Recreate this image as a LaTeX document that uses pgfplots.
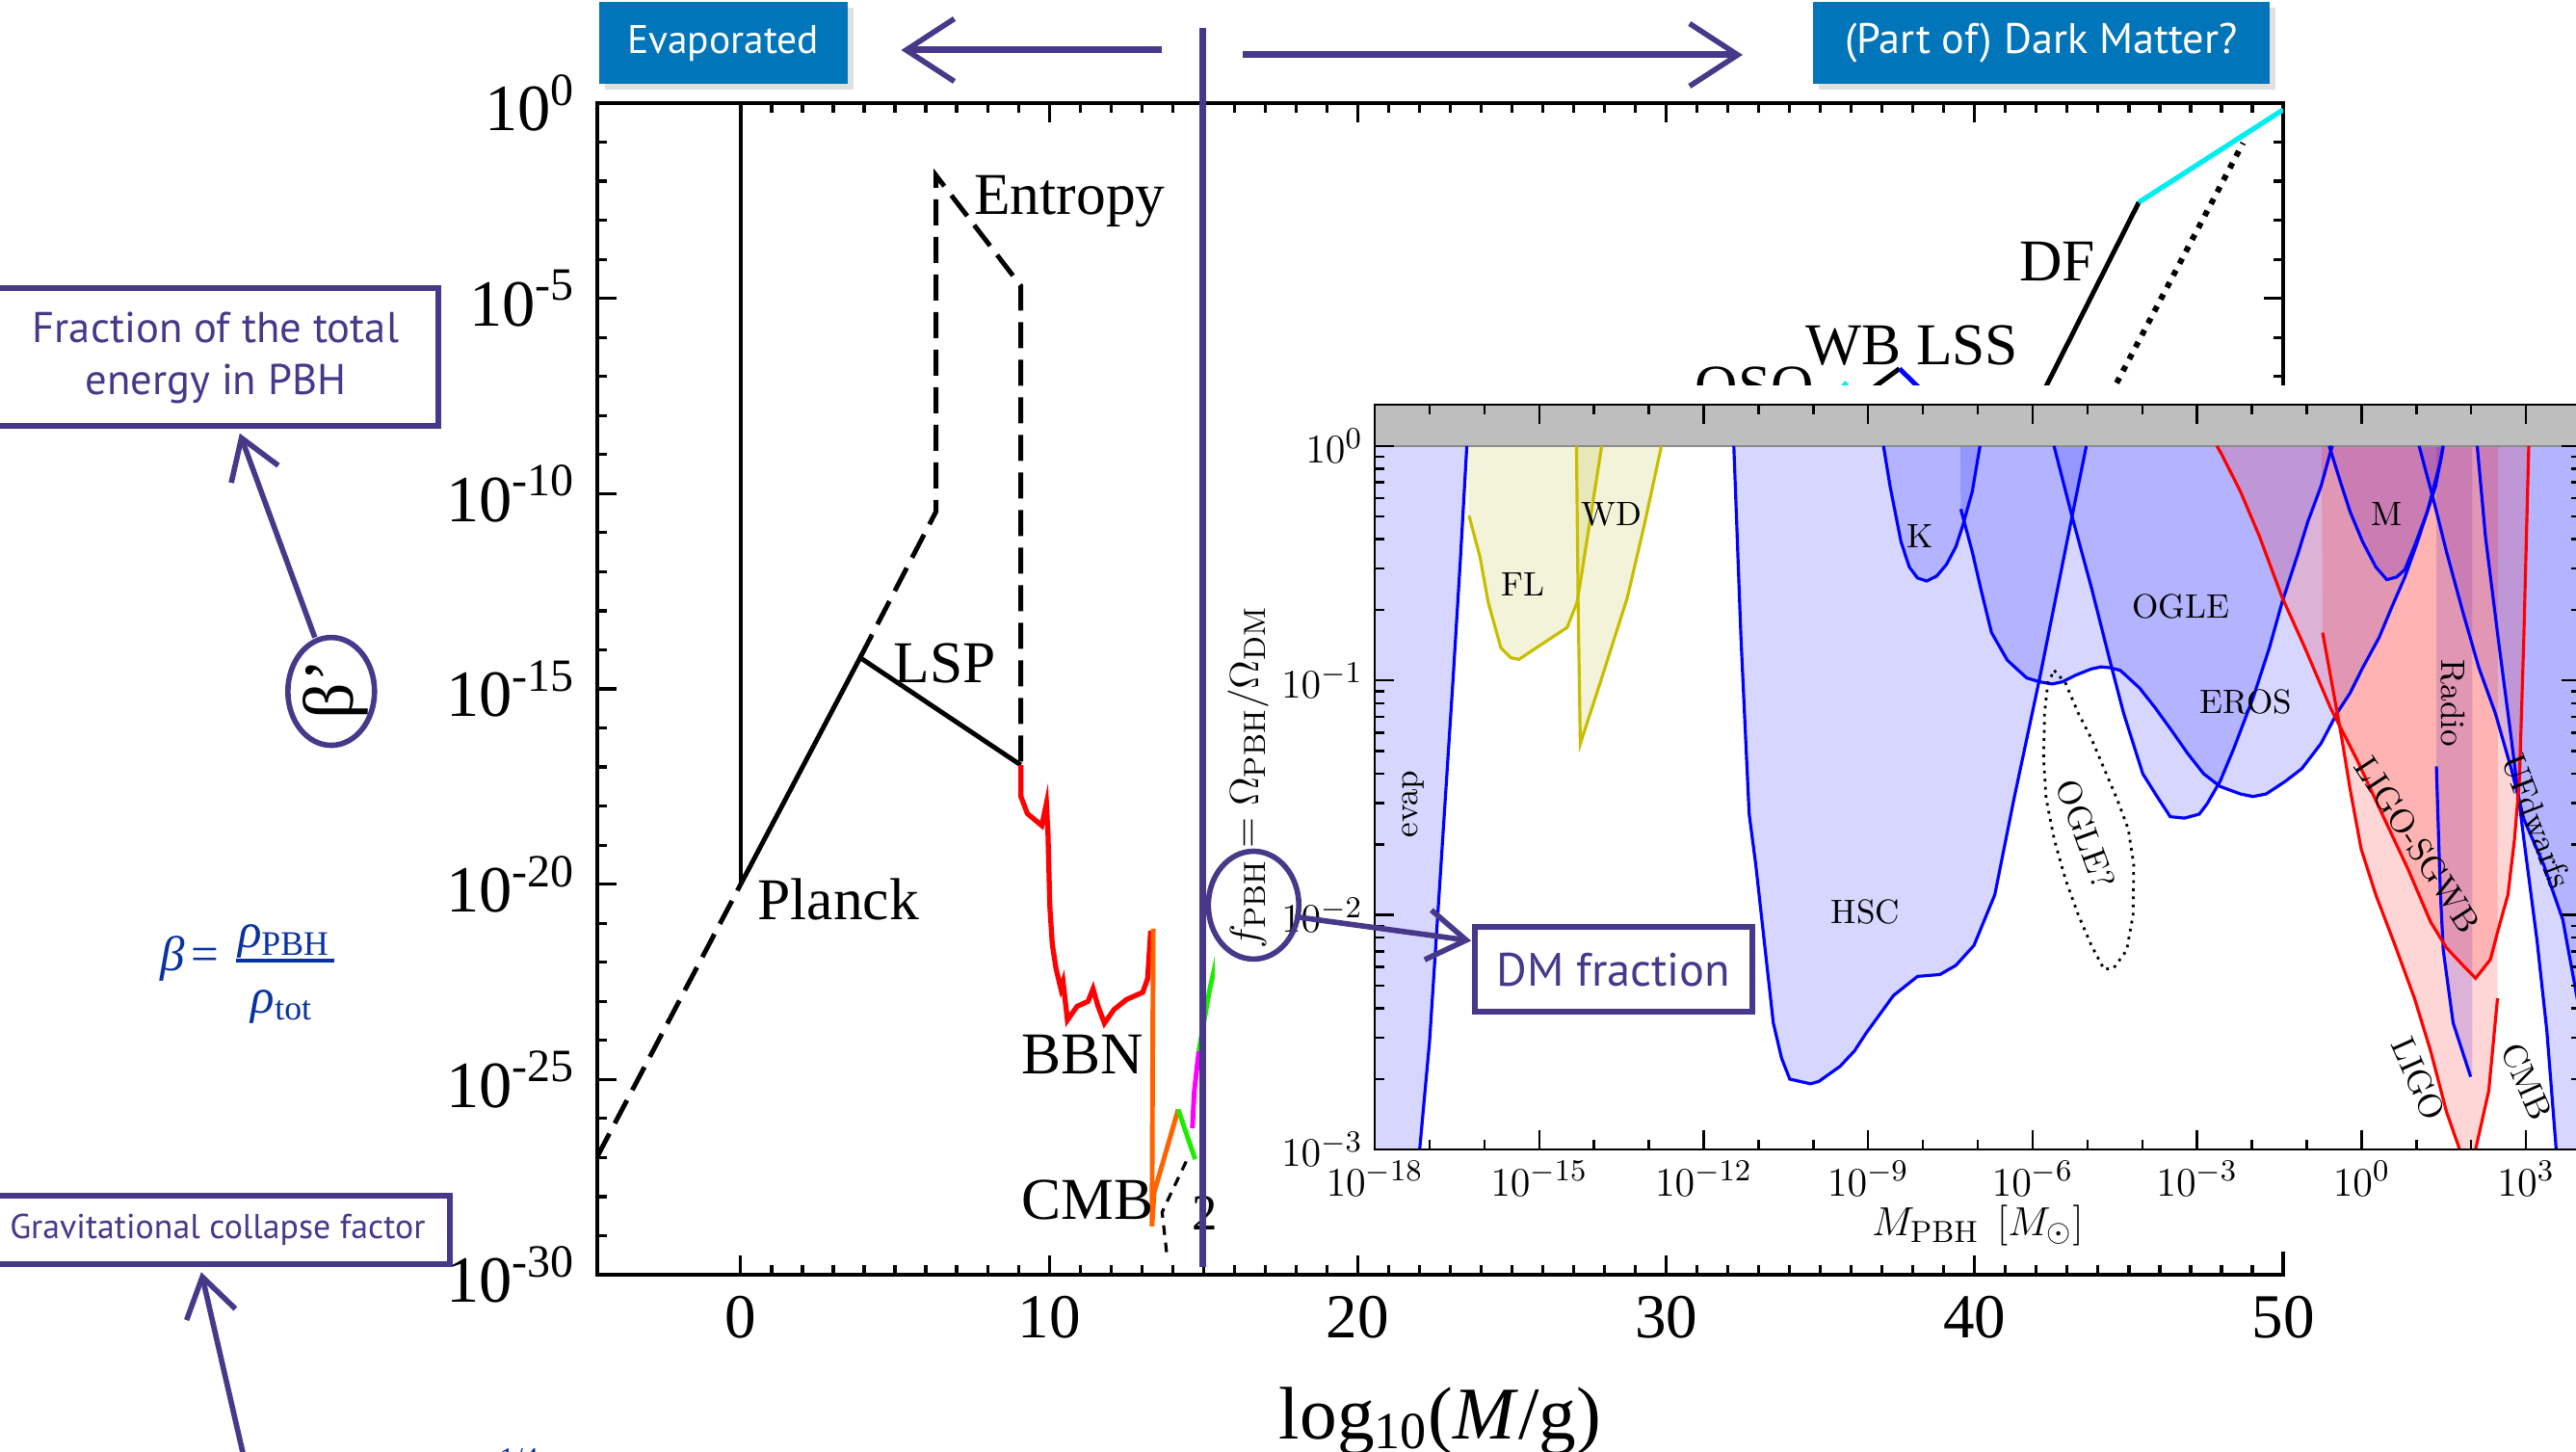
\documentclass[border=0pt]{standalone}
\usepackage[no-math]{fontspec}
\setmainfont{Liberation Serif}
\newfontfamily\annot{PT Sans}
\usepackage{pgfplots}
\pgfplotsset{compat=1.18}
\usetikzlibrary{arrows.meta}

\definecolor{purp}{RGB}{72,56,138}
\definecolor{boxblue}{RGB}{0,117,185}
\definecolor{fblue}{RGB}{10,50,160}
\definecolor{flfill}{RGB}{175,175,0}
\definecolor{flline}{RGB}{200,190,0}
\definecolor{band}{RGB}{190,190,190}
\definecolor{cmborange}{RGB}{255,100,0}
\definecolor{brgreen}{RGB}{30,235,0}
\definecolor{brcyan}{RGB}{0,238,238}
\definecolor{brmagenta}{RGB}{255,0,255}

\newcommand\lm{\fontfamily{lmr}\selectfont}
\tikzset{barb/.style={-{Straight Barb[length=#1, width=1.3*#1, line width=1.6pt]}}}

\begin{document}
\begin{tikzpicture}
\useasboundingbox (0,0) rectangle (26.74,15.06);
\clip (0,0) rectangle (26.74,15.06);

% ---------------- beta' versus log10(M/g) ----------------
\begin{axis}[
  at={(6.20cm,1.83cm)}, anchor=south west, scale only axis,
  width=17.50cm, height=12.16cm,
  xmin=-4.65, xmax=50, ymin=-30, ymax=0,
  xtick={0,10,20,30,40,50}, xticklabels={0,10,20,30,40,50},
  minor x tick num=9,
  ytick={-30,-25,-20,-15,-10,-5,0},
  yticklabels={10\textsuperscript{-30},10\textsuperscript{-25},10\textsuperscript{-20},10\textsuperscript{-15},10\textsuperscript{-10},10\textsuperscript{-5},10\textsuperscript{0}},
  minor y tick num=4,
  tick align=inside,
  major tick length=0.2cm, minor tick length=0.1cm,
  every tick/.style={black, line width=0.9pt},
  axis line style={line width=1.3pt},
  tick label style={font=\fontsize{18.5}{20}\selectfont},
  yticklabel style={xshift=-0.1cm, font=\fontsize{19.5}{21}\selectfont},
  xticklabel style={yshift=-0.1cm},
  xlabel={log\textsubscript{10}(\textit{M}/g)},
  xlabel style={at={(axis description cs:0.5,-0.1398)}, anchor=base, font=\fontsize{22}{26}\selectfont},
  ylabel={β’},
  ylabel style={at={(axis description cs:-0.1554,0.5)}, anchor=center, rotate=0, font=\fontsize{21}{25}\selectfont},
]
% Planck
\addplot[black, line width=1pt] coordinates {(0,0) (0,-20)};
\addplot[black, line width=1.4pt, dash pattern=on 0.27cm off 0.12cm] coordinates {(-4.65,-26.975) (0,-20)};
\addplot[black, line width=1.4pt] coordinates {(0,-20) (3.87,-14.2) (9.08,-16.95)};
% entropy / LSP
\addplot[black, line width=1.4pt, dash pattern=on 0.27cm off 0.12cm] coordinates {(3.87,-14.2) (6.33,-10.46) (6.33,-1.85) (9.08,-4.68) (9.08,-16.95)};
% BBN
\addplot[red, line width=1.5pt] coordinates {(9.08,-16.95) (9.08,-17.75) (9.29,-18.19) (9.76,-18.5) (9.91,-17.93) (9.96,-18.72) (10.02,-20.57) (10.10,-21.54) (10.22,-22.16) (10.38,-22.68) (10.45,-22.5) (10.59,-23.48) (10.90,-23.13) (11.26,-23.0) (11.42,-22.68) (11.58,-23.12) (11.79,-23.56) (12.1,-23.21) (12.51,-22.95) (13.03,-22.77) (13.19,-22.42) (13.29,-21.19)};
% CMB
\addplot[cmborange, line width=1.4pt] coordinates {(13.37,-21.14) (13.33,-28.76) (13.40,-27.9) (14.18,-25.77)};
\addplot[brgreen, line width=1.4pt] coordinates {(14.18,-25.77) (14.73,-27.04)};
\addplot[brmagenta, line width=1.4pt] coordinates {(14.64,-26.25) (14.70,-25.33) (14.85,-24.27)};
\addplot[brgreen, line width=1.4pt] coordinates {(14.85,-24.27) (15.2,-22.7) (15.6,-21.3)};
\addplot[black, line width=0.9pt, dash pattern=on 0.1cm off 0.08cm] coordinates {(14.44,-27.1) (13.86,-28.06) (13.66,-28.4) (13.81,-29.46)};
% large masses
\addplot[black, line width=1.4pt] coordinates {(41.2,-9) (42.33,-7.23) (45.32,-2.54)};
\addplot[brcyan, line width=1.5pt] coordinates {(45.32,-2.54) (50,-0.17)};
\addplot[black, line width=1.7pt, dash pattern=on 0.06cm off 0.08cm] coordinates {(43.38,-9) (48.7,-1.02)};
\addplot[black, line width=1.4pt] coordinates {(36.0,-7.7) (37.56,-6.8)};
\addplot[blue, line width=1.4pt] coordinates {(37.56,-6.8) (38.6,-7.6)};
\addplot[brcyan, line width=1.4pt] coordinates {(35.5,-7.5) (35.85,-7.15)};
% labels
\begin{scope}[every node/.style={font=\fontsize{17.5}{20}\selectfont, inner sep=0pt}]
\node[anchor=base west] at (axis cs:7.55,-2.86) {Entropy};
\node[anchor=base west] at (axis cs:4.93,-14.83) {LSP};
\node[anchor=base west] at (axis cs:0.53,-20.90) {Planck};
\node[anchor=base west] at (axis cs:9.08,-24.85) {BBN};
\node[anchor=base west] at (axis cs:9.08,-28.57) {CMB};
\node[anchor=base west] at (axis cs:41.43,-4.56) {DF};
\node[anchor=base west] at (axis cs:34.51,-6.69) {WB LSS};
\node[anchor=base west] at (axis cs:30.92,-7.75) {QSO};
\node[anchor=base west, font=\fontsize{15}{18}\selectfont] at (axis cs:14.60,-28.84) {2};
\end{scope}
\end{axis}

% background of the f_PBH panel
\begin{scope}[x=0.01cm, y=-0.01cm, yshift=15.06cm]
\fill[white] (1262,400) rectangle (2690,1300);
\end{scope}

% ---------------- f_PBH versus M_PBH ----------------
\begin{axis}[
  at={(14.27cm,3.13cm)}, anchor=south west, scale only axis,
  width=12.52cm, height=7.73cm,
  xmin=-18, xmax=4, ymin=-3, ymax=0.1761,
  axis on top,
  xtick={-18,-15,-12,-9,-6,-3,0,3},
  xticklabels={$10^{-18}$,$10^{-15}$,$10^{-12}$,$10^{-9}$,$10^{-6}$,$10^{-3}$,$10^{0}$,$10^{3}$},
  minor x tick num=2,
  ytick={-3,-2,-1,0},
  yticklabels={$10^{-3}$,$10^{-2}$,$10^{-1}$,$10^{0}$},
  minor ytick={-2.699,-2.523,-2.398,-2.301,-2.222,-2.155,-2.097,-2.046,-1.699,-1.523,-1.398,-1.301,-1.222,-1.155,-1.097,-1.046,-0.699,-0.523,-0.398,-0.301,-0.222,-0.155,-0.097,-0.046},
  tick align=inside,
  major tick length=0.2cm, minor tick length=0.1cm,
  every tick/.style={black, line width=0.7pt},
  axis line style={line width=0.8pt},
  tick label style={font=\fontsize{13}{15}\selectfont},
  xlabel={$M_{\mathrm{PBH}}\ \left[M_\odot\right]$},
  ylabel={$f_{\mathrm{PBH}} = \Omega_{\mathrm{PBH}}/\Omega_{\mathrm{DM}}$},
  label style={font=\fontsize{13}{15}\selectfont},
  xlabel style={at={(axis description cs:0.5,-0.102)}, anchor=center},
  ylabel style={at={(axis description cs:-0.105,0.5)}, anchor=center},
]
% excluded regions
\addplot[fill=blue, fill opacity=0.16, draw=none] coordinates {(-18,0) (-16.32,0) (-16.44,-0.495) (-16.57,-0.99) (-16.70,-1.46) (-16.85,-2.0) (-17.0,-2.54) (-17.18,-3) (-18,-3)} -- cycle;
\addplot[fill=blue, fill opacity=0.16, draw=none] coordinates {(-11.45,0) (-11.32,-0.817) (-11.17,-1.57) (-11.05,-1.785) (-10.73,-2.46) (-10.58,-2.61) (-10.43,-2.70) (-10.05,-2.72) (-9.90,-2.71) (-9.51,-2.645) (-9.25,-2.58) (-9.04,-2.505) (-8.54,-2.344) (-8.10,-2.262) (-7.69,-2.254) (-7.40,-2.215) (-7.07,-2.13) (-6.69,-1.914) (-6.34,-1.505) (-5.87,-0.989) (-5.52,-0.58) (-5.28,-0.30) (-5.02,0)} -- cycle;
\addplot[fill=blue, fill opacity=0.16, draw=none] coordinates {(-8.72,0) (-8.60,-0.172) (-8.40,-0.409) (-8.25,-0.516) (-8.10,-0.563) (-7.93,-0.576) (-7.75,-0.555) (-7.57,-0.505) (-7.40,-0.43) (-7.28,-0.344) (-7.10,-0.194) (-6.96,0)} -- cycle;
\addplot[fill=blue, fill opacity=0.16, draw=none] coordinates {(-7.32,0) (-7.31,-0.269) (-7.10,-0.452) (-6.93,-0.624) (-6.75,-0.796) (-6.46,-0.914) (-6.11,-0.989) (-5.87,-1.006) (-5.64,-1.015) (-5.46,-1.006) (-5.22,-0.978) (-4.93,-0.951) (-4.75,-0.942) (-4.58,-0.946) (-4.40,-0.957) (-4.05,-1.032) (-3.76,-1.118) (-3.46,-1.215) (-3.17,-1.312) (-2.88,-1.398) (-2.58,-1.452) (-2.21,-1.484) (-1.98,-1.495) (-1.74,-1.484) (-1.39,-1.43) (-1.09,-1.376) (-0.74,-1.269) (-0.45,-1.14) (-0.21,-1.054) (0.02,-0.946) (0.32,-0.817) (0.55,-0.688) (0.79,-0.559) (1.02,-0.409) (1.2,-0.28) (1.35,-0.172) (1.49,0)} -- cycle;
\addplot[fill=blue, fill opacity=0.16, draw=none] coordinates {(-5.61,0) (-5.28,-0.301) (-4.93,-0.602) (-4.58,-0.925) (-4.34,-1.14) (-3.99,-1.398) (-3.76,-1.484) (-3.49,-1.581) (-3.23,-1.587) (-2.96,-1.57) (-2.82,-1.527) (-2.58,-1.43) (-2.33,-1.29) (-1.98,-1.075) (-1.68,-0.86) (-1.45,-0.667) (-1.15,-0.452) (-0.98,-0.323) (-0.74,-0.172) (-0.535,0)} -- cycle;
\addplot[fill=blue, fill opacity=0.16, draw=none] coordinates {(-0.59,0) (-0.39,-0.15) (-0.21,-0.28) (0.02,-0.409) (0.26,-0.516) (0.46,-0.57) (0.64,-0.559) (0.79,-0.527) (0.96,-0.43) (1.2,-0.28) (1.44,-0.065) (1.49,0)} -- cycle;
\addplot[fill=blue, fill opacity=0.16, draw=none] coordinates {(1.05,0) (1.32,-0.237) (1.55,-0.452) (1.85,-0.71) (2.14,-0.946) (2.44,-1.14) (2.73,-1.376) (2.96,-1.591) (3.32,-1.785) (3.67,-2.02) (3.96,-2.39) (4,-2.45) (4,0)} -- cycle;
\addplot[fill=blue, fill opacity=0.16, draw=none] coordinates {(2.11,0) (2.26,-0.387) (2.49,-0.817) (2.73,-1.247) (2.96,-1.677) (3.2,-2.108) (3.38,-2.495) (3.55,-3) (4,-3) (4,0)} -- cycle;
\addplot[fill=blue, fill opacity=0.16, draw=none] coordinates {(1.365,0) (1.365,-1.366) (1.435,-1.892) (1.49,-2.15) (1.67,-2.46) (1.99,-2.69) (2.02,-2.69) (2.02,0)} -- cycle;
\addplot[fill=red, fill opacity=0.16, draw=none] coordinates {(-0.73,0) (-0.71,-0.796) (-0.56,-0.989) (-0.36,-1.247) (-0.21,-1.462) (-0.006,-1.72) (0.26,-1.914) (0.61,-2.129) (0.965,-2.355) (1.26,-2.58) (1.55,-2.84) (1.79,-3.0) (2.08,-3.0) (2.32,-2.75) (2.48,-2.355) (2.49,0)} -- cycle;
\addplot[fill=red, fill opacity=0.16, draw=none] coordinates {(-2.64,0) (-2.56,-0.032) (-2.21,-0.194) (-1.86,-0.387) (-1.45,-0.645) (-1.035,-0.86) (-0.565,-1.118) (-0.094,-1.333) (0.376,-1.57) (0.85,-1.806) (1.26,-2.03) (1.55,-2.14) (1.85,-2.215) (2.08,-2.27) (2.35,-2.19) (2.49,-2.065) (2.67,-1.914) (2.79,-1.677) (2.88,-1.42) (2.96,-0.817) (3.05,0)} -- cycle;
\addplot[fill=flfill, fill opacity=0.15, draw=none] coordinates {(-16.29,0) (-16.28,-0.297) (-16.08,-0.473) (-15.93,-0.667) (-15.70,-0.86) (-15.52,-0.903) (-15.37,-0.91) (-14.49,-0.774) (-14.31,-0.667) (-14.22,-0.538) (-13.86,0)} -- cycle;
\addplot[fill=flfill, fill opacity=0.15, draw=none] coordinates {(-14.32,0) (-14.29,-0.667) (-14.25,-1.27) (-13.86,-0.99) (-13.39,-0.645) (-13.09,-0.344) (-12.77,0)} -- cycle;
% f > 1 is excluded
\addplot[fill=band, draw=none] coordinates {(-18,0) (4,0) (4,0.1761) (-18,0.1761)} -- cycle;
\addplot[black!45, line width=0.4pt] coordinates {(-18,0) (4,0)};
% boundaries
\addplot[blue, line width=0.9pt] coordinates {(-16.32,0) (-16.44,-0.495) (-16.57,-0.99) (-16.70,-1.46) (-16.85,-2.0) (-17.0,-2.54) (-17.18,-3)};
\addplot[blue, line width=0.9pt] coordinates {(-11.45,0) (-11.32,-0.817) (-11.17,-1.57) (-11.05,-1.785) (-10.73,-2.46) (-10.58,-2.61) (-10.43,-2.70) (-10.05,-2.72) (-9.90,-2.71) (-9.51,-2.645) (-9.25,-2.58) (-9.04,-2.505) (-8.54,-2.344) (-8.10,-2.262) (-7.69,-2.254) (-7.40,-2.215) (-7.07,-2.13) (-6.69,-1.914) (-6.34,-1.505) (-5.87,-0.989) (-5.52,-0.58) (-5.28,-0.30) (-5.02,0)};
\addplot[blue, line width=0.9pt] coordinates {(-8.72,0) (-8.60,-0.172) (-8.40,-0.409) (-8.25,-0.516) (-8.10,-0.563) (-7.93,-0.576) (-7.75,-0.555) (-7.57,-0.505) (-7.40,-0.43) (-7.28,-0.344) (-7.10,-0.194) (-6.96,0)};
\addplot[blue, line width=0.9pt] coordinates {(-7.31,-0.269) (-7.10,-0.452) (-6.93,-0.624) (-6.75,-0.796) (-6.46,-0.914) (-6.11,-0.989) (-5.87,-1.006) (-5.64,-1.015) (-5.46,-1.006) (-5.22,-0.978) (-4.93,-0.951) (-4.75,-0.942) (-4.58,-0.946) (-4.40,-0.957) (-4.05,-1.032) (-3.76,-1.118) (-3.46,-1.215) (-3.17,-1.312) (-2.88,-1.398) (-2.58,-1.452) (-2.21,-1.484) (-1.98,-1.495) (-1.74,-1.484) (-1.39,-1.43) (-1.09,-1.376) (-0.74,-1.269) (-0.45,-1.14) (-0.21,-1.054) (0.02,-0.946) (0.32,-0.817) (0.55,-0.688) (0.79,-0.559) (1.02,-0.409) (1.2,-0.28) (1.35,-0.172) (1.49,0)};
\addplot[blue, line width=0.9pt] coordinates {(-5.61,0) (-5.28,-0.301) (-4.93,-0.602) (-4.58,-0.925) (-4.34,-1.14) (-3.99,-1.398) (-3.76,-1.484) (-3.49,-1.581) (-3.23,-1.587) (-2.96,-1.57) (-2.82,-1.527) (-2.58,-1.43) (-2.33,-1.29) (-1.98,-1.075) (-1.68,-0.86) (-1.45,-0.667) (-1.15,-0.452) (-0.98,-0.323) (-0.74,-0.172) (-0.535,0)};
\addplot[blue, line width=0.9pt] coordinates {(-0.59,0) (-0.39,-0.15) (-0.21,-0.28) (0.02,-0.409) (0.26,-0.516) (0.46,-0.57) (0.64,-0.559) (0.79,-0.527) (0.96,-0.43) (1.2,-0.28) (1.44,-0.065) (1.49,0)};
\addplot[blue, line width=0.9pt] coordinates {(1.05,0) (1.32,-0.237) (1.55,-0.452) (1.85,-0.71) (2.14,-0.946) (2.44,-1.14) (2.73,-1.376) (2.96,-1.591) (3.32,-1.785) (3.67,-2.02) (3.96,-2.39) (4,-2.45)};
\addplot[blue, line width=0.9pt] coordinates {(2.11,0) (2.26,-0.387) (2.49,-0.817) (2.73,-1.247) (2.96,-1.677) (3.2,-2.108) (3.38,-2.495) (3.55,-3)};
\addplot[blue, line width=0.9pt] coordinates {(1.365,-1.366) (1.435,-1.892) (1.49,-2.15) (1.67,-2.46) (1.99,-2.69)};
\addplot[red, line width=0.9pt] coordinates {(-0.71,-0.796) (-0.56,-0.989) (-0.36,-1.247) (-0.21,-1.462) (-0.006,-1.72) (0.26,-1.914) (0.61,-2.129) (0.965,-2.355) (1.26,-2.58) (1.55,-2.84) (1.79,-3.0)};
\addplot[red, line width=0.9pt] coordinates {(2.08,-3.0) (2.32,-2.75) (2.48,-2.355)};
\addplot[red, line width=0.9pt] coordinates {(-2.64,0) (-2.56,-0.032) (-2.21,-0.194) (-1.86,-0.387) (-1.45,-0.645) (-1.035,-0.86) (-0.565,-1.118) (-0.094,-1.333) (0.376,-1.57) (0.85,-1.806) (1.26,-2.03) (1.55,-2.14) (1.85,-2.215) (2.08,-2.27) (2.35,-2.19) (2.49,-2.065) (2.67,-1.914) (2.79,-1.677) (2.88,-1.42) (2.96,-0.817) (3.05,0)};
\addplot[flline, line width=0.9pt] coordinates {(-16.28,-0.297) (-16.08,-0.473) (-15.93,-0.667) (-15.70,-0.86) (-15.52,-0.903) (-15.37,-0.91) (-14.49,-0.774) (-14.31,-0.667) (-14.22,-0.538) (-13.86,0)};
\addplot[flline, line width=0.9pt] coordinates {(-14.32,0) (-14.29,-0.667) (-14.25,-1.27) (-13.86,-0.99) (-13.39,-0.645) (-13.09,-0.344) (-12.77,0)};
% tentative OGLE candidate region
\addplot[black, line width=0.8pt, dash pattern=on 0.8pt off 1.6pt] coordinates {(-5.606,-0.957) (-5.40,-1.011) (-5.166,-1.14) (-4.93,-1.247) (-4.696,-1.376) (-4.461,-1.505) (-4.255,-1.634) (-4.156,-1.785) (-4.167,-2.0) (-4.285,-2.151) (-4.52,-2.226) (-4.696,-2.232) (-4.93,-2.129) (-5.166,-2.0) (-5.40,-1.849) (-5.606,-1.677) (-5.753,-1.505) (-5.80,-1.333) (-5.782,-1.14) (-5.723,-1.011) (-5.606,-0.957)};
% constraint names
\begin{scope}[every node/.style={font=\lm\fontsize{10}{12}\selectfont, inner sep=0pt}]
\node[rotate=90] at (axis cs:-17.29,-1.527) {evap};
\node at (axis cs:-15.29,-0.59) {FL};
\node at (axis cs:-13.68,-0.29) {WD};
\node at (axis cs:-9.05,-1.987) {HSC};
\node at (axis cs:-8.06,-0.386) {K};
\node at (axis cs:-3.30,-0.686) {OGLE};
\node at (axis cs:-2.11,-1.09) {EROS};
\node[rotate=-70] at (axis cs:-5.03,-1.654) {OGLE?};
\node at (axis cs:0.46,-0.29) {M};
\node[rotate=-90] at (axis cs:1.66,-1.097) {Radio};
\node[rotate=-57] at (axis cs:1.02,-1.70) {LIGO-SGWB};
\node[rotate=-66] at (axis cs:1.035,-2.70) {LIGO};
\node[rotate=-69] at (axis cs:3.20,-1.60) {UFdwarfs};
\node[rotate=-66] at (axis cs:3.02,-2.71) {CMB};
\end{scope}
\end{axis}

% ---------------- annotations ----------------
\begin{scope}[x=0.01cm, y=-0.01cm, yshift=15.06cm]
% headline boxes
\fill[black!12] (628,8) rectangle (886,93);
\fill[boxblue] (622,2) rectangle (880,87);
\node[text=white, font=\annot\fontsize{11.8}{14}\selectfont] at (751,45) {Evaporated};
\fill[black!12] (1889,8) rectangle (2363,93);
\fill[boxblue] (1883,2) rectangle (2357,87);
\node[text=white, font=\annot\fontsize{12.6}{15}\selectfont] at (2120,45) {(Part of) Dark Matter?};
\draw[purp, line width=2pt, barb=0.5cm] (1207,52) -- (936,52);
\draw[purp, line width=2pt, barb=0.5cm] (1291,57) -- (1810,57);
\draw[purp, line width=1.9pt] (1249,29) -- (1249,1316);
% left-hand notes
\draw[purp, line width=1.7pt, fill=white] (-10,299) rectangle (455,442);
\node[text=purp, align=center, font=\annot\fontsize{12.7}{15.3}\selectfont] at (224,372) {Fraction of the total\\energy in PBH};
\draw[purp, line width=1.6pt] (344,718) ellipse [x radius=45, y radius=56];
\draw[purp, line width=1.6pt, barb=0.4cm] (327,662) -- (249,450);
\node[anchor=base west, text=fblue, font=\fontsize{14.5}{16}\selectfont\itshape] at (154,1008) {β};
\node[anchor=base, text=fblue, font=\fontsize{14.5}{16}\selectfont] at (213,1008) {=};
\node[anchor=base, text=fblue, font=\fontsize{14.5}{16}\selectfont] at (295,984) {\textit{ρ}\textsubscript{PBH}};
\draw[fblue, line width=1.1pt] (245,998) -- (347,998);
\node[anchor=base, text=fblue, font=\fontsize{14.5}{16}\selectfont] at (293,1052) {\textit{ρ}\textsubscript{tot}};
\draw[purp, line width=1.7pt, fill=white] (-10,1242) rectangle (467,1313);
\node[text=purp, font=\annot\fontsize{10.2}{12}\selectfont] at (226,1277) {Gravitational collapse factor};
\draw[purp, line width=1.6pt, barb=0.4cm] (253,1512) -- (209,1321);
\node[anchor=north, text=fblue, font=\fontsize{9}{10}\selectfont] at (539,1492) {1/4};
% the DM fraction
\draw[purp, line width=1.6pt] (1302,940) ellipse [x radius=47, y radius=56];
\draw[purp, line width=1.6pt, barb=0.4cm] (1345,952) -- (1528,977);
\draw[purp, line width=1.7pt, fill=white] (1532,963) rectangle (1820,1051);
\node[text=purp, font=\annot\fontsize{13.8}{16}\selectfont] at (1676,1007) {DM fraction};
\end{scope}
\end{tikzpicture}
\end{document}
